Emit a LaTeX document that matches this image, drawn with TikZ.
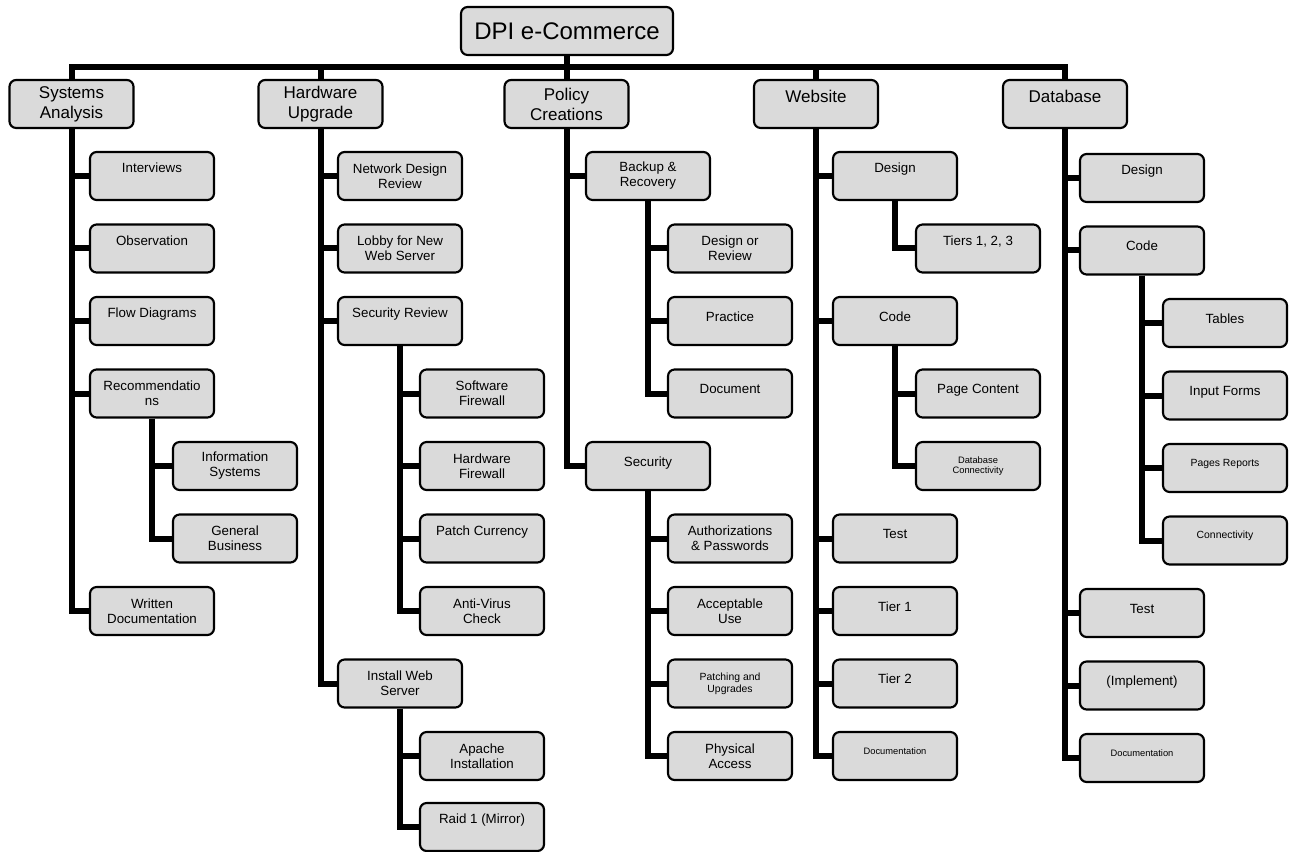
\documentclass[tikz,border=0pt]{standalone}
\usepackage{fontspec}
\setmainfont{Liberation Sans}
\usetikzlibrary{backgrounds}
\definecolor{boxfill}{RGB}{218,218,218}
\begin{document}
\begin{tikzpicture}[x=0.75pt,y=-0.75pt,
  box/.style={draw,line width=1.6pt,rounded corners=5pt,fill=boxfill,
    minimum width=93pt,minimum height=36pt,inner sep=1pt,align=center,
    font=\fontsize{10}{11.25}\selectfont},
  lvlone/.style={box,font=\fontsize{12.75}{15}\selectfont},
  rootbox/.style={box,minimum width=159pt,font=\fontsize{18}{21}\selectfont},
  hi/.style={text height=7pt,text depth=12pt},
  mid/.style={text height=7pt,text depth=6.8pt},
  onehi/.style={text height=9pt,text depth=11.2pt},
  smallseven/.style={font=\fontsize{7}{8}\selectfont},
  smalleight/.style={font=\fontsize{7.8}{8.8}\selectfont},
  smallmid/.style={text height=5pt,text depth=7.5pt},
  conn/.style={line width=4.5pt}]
\useasboundingbox (0,0) rectangle (1295,852);

% root and level 1
\node[rootbox] (root) at (567,31) {DPI e-Commerce};
\node[lvlone] (sa) at (71.5,104) {Systems\\Analysis};
\node[lvlone] (hu) at (320.5,104) {Hardware\\Upgrade};
\node[lvlone] (pc) at (566.5,104) {Policy\\Creations};
\node[lvlone,onehi] (ws) at (816,104) {Website};
\node[lvlone,onehi] (db) at (1065,104) {Database};
\coordinate (bar) at (0,67);

% Systems Analysis
\node[box,hi] (i1) at (152,176) {Interviews};
\node[box,hi] (i2) at (152,248.5) {Observation};
\node[box,hi] (i3) at (152,321) {Flow Diagrams};
\node[box] (i4) at (152,393.5) {Recommendatio\\ns};
\node[box] (i41) at (235,466) {Information\\Systems};
\node[box] (i42) at (235,538.5) {General\\Business};
\node[box] (i5) at (152,611) {Written\\Documentation};

% Hardware Upgrade
\node[box] (h1) at (400,176) {Network Design\\Review};
\node[box] (h2) at (400,248.5) {Lobby for New\\Web Server};
\node[box,hi] (h3) at (400,321) {Security Review};
\node[box] (h31) at (482,393.5) {Software\\Firewall};
\node[box] (h32) at (482,466) {Hardware\\Firewall};
\node[box,hi] (h33) at (482,538.5) {Patch Currency};
\node[box] (h34) at (482,611) {Anti-Virus\\Check};
\node[box] (h4) at (400,683.5) {Install Web\\Server};
\node[box] (h41) at (482,756) {Apache\\Installation};
\node[box,hi] (h42) at (482,827) {Raid 1 (Mirror)};

% Policy Creations
\node[box] (p1) at (648,176) {Backup \&\\Recovery};
\node[box] (p11) at (730,248.5) {Design or\\Review};
\node[box,mid] (p12) at (730,321) {Practice};
\node[box,mid] (p13) at (730,393.5) {Document};
\node[box,mid] (p2) at (648,466) {Security};
\node[box] (p21) at (730,538.5) {Authorizations\\\& Passwords};
\node[box] (p22) at (730,611) {Acceptable\\Use};
\node[box,smalleight] (p23) at (730,683.5) {Patching and\\Upgrades};
\node[box] (p24) at (730,756) {Physical\\Access};

% Website
\node[box,hi] (w1) at (895,176) {Design};
\node[box,hi] (w11) at (978,248.5) {Tiers 1, 2, 3};
\node[box,mid] (w2) at (895,321) {Code};
\node[box,mid] (w21) at (978,393.5) {Page Content};
\node[box,smallseven] (w22) at (978,466) {Database\\Connectivity};
\node[box,mid] (w3) at (895,538.5) {Test};
\node[box,mid] (w4) at (895,611) {Tier 1};
\node[box,mid] (w5) at (895,683.5) {Tier 2};
\node[box,smallseven,smallmid] (w6) at (895,756) {Documentation};

% Database
\node[box,hi] (d1) at (1142,178) {Design};
\node[box,mid] (d2) at (1142,250.5) {Code};
\node[box,mid] (d21) at (1225,323) {Tables};
\node[box,mid] (d22) at (1225,395.5) {Input Forms};
\node[box,smalleight,smallmid] (d23) at (1225,468) {Pages Reports};
\node[box,smalleight,smallmid] (d24) at (1225,540.5) {Connectivity};
\node[box,mid] (d3) at (1142,613) {Test};
\node[box,mid] (d4) at (1142,685.5) {(Implement)};
\node[box,smallseven,smallmid] (d5) at (1142,758) {Documentation};

\begin{scope}[on background layer]
  \fill[white] (0,0) rectangle (1295,852);
  \draw[conn] (root.south) -- (root.south |- bar);
  \draw[conn] (sa.north) |- (db.north |- bar) -- (db.north);
  \foreach \n in {hu,pc,ws} \draw[conn] (\n.north) -- (\n.north |- bar);
  \foreach \p/\c in {sa/i1,sa/i2,sa/i3,sa/i4,sa/i5,i4/i41,i4/i42,
      hu/h1,hu/h2,hu/h3,hu/h4,h3/h31,h3/h32,h3/h33,h3/h34,h4/h41,h4/h42,
      pc/p1,pc/p2,p1/p11,p1/p12,p1/p13,p2/p21,p2/p22,p2/p23,p2/p24,
      ws/w1,ws/w2,ws/w3,ws/w4,ws/w5,ws/w6,w1/w11,w2/w21,w2/w22,
      db/d1,db/d2,db/d3,db/d4,db/d5,d2/d21,d2/d22,d2/d23,d2/d24}
    \draw[conn] (\p.south) |- (\c.west);
\end{scope}
\end{tikzpicture}
\end{document}
